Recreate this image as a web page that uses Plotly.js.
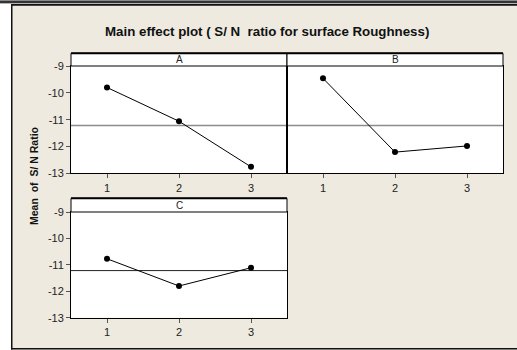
<!DOCTYPE html>
<html>
<head>
<meta charset="utf-8">
<script src="https://cdn.plot.ly/plotly-3.0.1.min.js"></script>
<style>html,body{margin:0;padding:0;background:#fff;}#chart{width:517px;height:350px;}</style>
</head>
<body>
<div id="chart"></div>
<script>
// ---- data ----
const levels = [1, 2, 3];
const levelLabels = ['1', '2', '3'];
const factorNames = ['A', 'B', 'C'];
const snA = [-9.80, -11.06, -12.76];
const snB = [-9.46, -12.21, -11.98];
const snC = [-10.77, -11.80, -11.11];
const yTicks = [-9, -10, -11, -12, -13];
const yTickLabels = ['-9', '-10', '-11', '-12', '-13'];
const chartTitle = 'Main effect plot ( S/ N  ratio for surface Roughness)';
const yTitle = 'Mean  of  S/ N Ratio';

const W = 517, H = 350;
const px = v => v / W;
const py = v => 1 - v / H;
const FONT = 'Liberation Sans, Arial, sans-serif';

const allVals = snA.concat(snB, snC);
const grandMean = allVals.reduce((a, b) => a + b, 0) / allVals.length;

const series = [snA, snB, snC];
const traces = series.map((vals, i) => ({
  x: levels, y: vals, type: 'scatter', mode: 'lines+markers',
  xaxis: i === 0 ? 'x' : 'x' + (i + 1), yaxis: i === 0 ? 'y' : 'y' + (i + 1),
  line: {color: '#000', width: 1},
  marker: {color: '#000', size: 6},
  showlegend: false, hoverinfo: 'x+y'
}));

const domA = [px(71), px(287)];
const domB = [px(287), px(503)];
const yTop = [py(173.3), py(66)];
const yBot = [py(317.7), py(212)];

function xax(dom, anchor) {
  return {
    domain: dom, anchor: anchor, range: [0.5, 3.5],
    tickvals: levels, ticktext: levelLabels,
    ticks: 'outside', ticklen: 4, tickcolor: '#555', tickwidth: 1,
    showline: true, mirror: true, linecolor: '#000', linewidth: 1,
    showgrid: false, zeroline: false,
    tickfont: {family: FONT, size: 11, color: '#222'}
  };
}
function yax(dom, anchor, labels) {
  return {
    domain: dom, anchor: anchor, range: [-13, -9],
    tickvals: yTicks, ticktext: yTickLabels, ticks: labels ? 'outside' : '', ticklen: 4, tickcolor: '#555', tickwidth: 1,
    showticklabels: labels,
    showline: true, mirror: true, linecolor: '#000', linewidth: 1,
    showgrid: false, zeroline: false,
    tickfont: {family: FONT, size: 11, color: '#222'}
  };
}

const shapes = [
  {type: 'rect', xref: 'paper', yref: 'paper', x0: 0, x1: px(11), y0: 0, y1: 1, fillcolor: '#ffffff', line: {width: 0}, layer: 'below'},
  {type: 'rect', xref: 'paper', yref: 'paper', x0: 0, x1: 1, y0: py(1), y1: py(0), fillcolor: '#8a8a8a', line: {width: 0}},
  {type: 'rect', xref: 'paper', yref: 'paper', x0: 0, x1: 1, y0: py(3), y1: py(1), fillcolor: '#333333', line: {width: 0}},
  {type: 'rect', xref: 'paper', yref: 'paper', x0: 0, x1: 1, y0: py(4), y1: py(3), fillcolor: '#b5b5b5', line: {width: 0}},
  {type: 'rect', xref: 'paper', yref: 'paper', x0: px(11), x1: 1, y0: py(5.7), y1: py(4), fillcolor: '#111111', line: {width: 0}},
  {type: 'rect', xref: 'paper', yref: 'paper', x0: px(11), x1: px(12.5), y0: py(349.5), y1: py(4), fillcolor: '#111111', line: {width: 0}},
  {type: 'rect', xref: 'paper', yref: 'paper', x0: px(11), x1: 1, y0: py(349.5), y1: py(348), fillcolor: '#111111', line: {width: 0}}
];

const annotations = [
  {text: '<b>' + chartTitle + '</b>', xref: 'paper', yref: 'paper', x: px(267), y: py(32),
   xanchor: 'center', yanchor: 'middle', showarrow: false, font: {family: FONT, size: 13.3, color: '#111'}},
  {text: '<b>' + yTitle + '</b>', xref: 'paper', yref: 'paper', x: px(34), y: py(176),
   xanchor: 'center', yanchor: 'middle', textangle: -90, showarrow: false, font: {family: FONT, size: 10.5, color: '#111'}}
];

const meanColors = ['#8c8c8c', '#8c8c8c', '#222222'];
const meanWidths = [1.5, 1.5, 1];
const stripH = [12.7, 12.7, 13.7];
const domH = [107.3, 107.3, 105.7];
factorNames.forEach((name, i) => {
  const xr = i === 0 ? 'x' : 'x' + (i + 1);
  const yr = i === 0 ? 'y' : 'y' + (i + 1);
  const top = 1 + stripH[i] / domH[i];
  shapes.push({type: 'line', xref: xr + ' domain', yref: yr, x0: 0, x1: 1, y0: grandMean, y1: grandMean,
    line: {color: meanColors[i], width: meanWidths[i]}, layer: 'below'});
  shapes.push({type: 'rect', xref: xr + ' domain', yref: yr + ' domain', x0: 0, x1: 1, y0: 1, y1: top,
    fillcolor: '#ffffff', line: {color: '#000', width: 1}});
  shapes.push({type: 'line', xref: xr + ' domain', yref: yr + ' domain', x0: 0, x1: 1, y0: top, y1: top,
    line: {color: '#000', width: 2}});
  annotations.push({text: name, xref: xr + ' domain', yref: yr + ' domain', x: 0.5, y: (1 + top) / 2,
    xanchor: 'center', yanchor: 'middle', showarrow: false, font: {family: FONT, size: 10, color: '#222'}});
});

const layout = {
  width: W, height: H,
  margin: {l: 0, r: 0, t: 0, b: 0},
  paper_bgcolor: '#eeeae0', plot_bgcolor: '#ffffff',
  showlegend: false,
  xaxis: xax(domA, 'y'), yaxis: yax(yTop, 'x', true),
  xaxis2: xax(domB, 'y2'), yaxis2: yax(yTop, 'x2', false),
  xaxis3: xax(domA, 'y3'), yaxis3: yax(yBot, 'x3', true),
  shapes: shapes, annotations: annotations
};

Plotly.newPlot('chart', traces, layout, {displayModeBar: false, staticPlot: true});
</script>
</body>
</html>
